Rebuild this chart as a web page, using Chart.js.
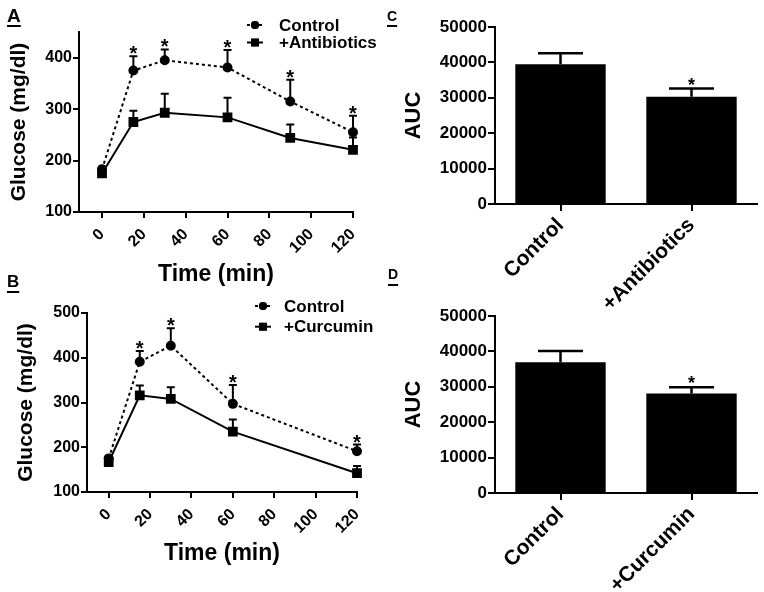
<!DOCTYPE html>
<html>
<head>
<meta charset="utf-8">
<script src="https://cdn.jsdelivr.net/npm/chart.js@4.4.1/dist/chart.umd.min.js"></script>
<style>
  body { margin: 0; background: #fff; }
  #fig { position: relative; width: 764px; height: 592px; overflow: hidden; font-family: "Liberation Sans", Arial, sans-serif; }
  canvas { position: absolute; }
  .tag { position: absolute; font-weight: bold; line-height: 1; color: #000;
         text-decoration: underline; text-decoration-thickness: 2px; }
</style>
</head>
<body>
<div id="fig">
  <canvas id="chartA" width="380" height="290" style="left:0;top:0"></canvas>
  <canvas id="chartB" width="380" height="302" style="left:0;top:290px"></canvas>
  <canvas id="chartC" width="384" height="310" style="left:380px;top:0"></canvas>
  <canvas id="chartD" width="384" height="302" style="left:380px;top:290px"></canvas>
  <div class="tag" style="left:7px;top:6px;font-size:19px;text-underline-offset:3px">A</div>
  <div class="tag" style="left:7px;top:273px;font-size:17px;text-underline-offset:4px">B</div>
  <div class="tag" style="left:387px;top:9px;font-size:14px;text-underline-offset:4px">C</div>
  <div class="tag" style="left:388px;top:267px;font-size:14px;text-underline-offset:5px">D</div>
</div>
<script>
// panel A: glucose tolerance, antibiotics
const timesA = [0, 15, 30, 60, 90, 120];
const controlA = [183, 375, 395, 381, 315, 255];
const controlErrA = [5, 28, 21, 34, 42, 32];
const starsA = [false, true, true, true, true, true];
const antibioticsA = [175, 275, 293, 284, 244, 221];
const antibioticsErrA = [10, 22, 37, 38, 26, 24];

// panel B: glucose tolerance, curcumin
const timesB = [0, 15, 30, 60, 120];
const controlB = [175, 391, 427, 297, 191];
const controlErrB = [6, 24, 39, 42, 15];
const starsB = [false, true, true, true, true];
const curcuminB = [167, 316, 308, 235, 142];
const curcuminErrB = [13, 22, 26, 27, 16];

const timeTicks = [0, 20, 40, 60, 80, 100, 120];
const glucoseTicksA = [100, 200, 300, 400];
const glucoseTicksB = [100, 200, 300, 400, 500];

// panels C, D: area under curve
const groupsC = ['Control', '+Antibiotics'];
const aucC = [39500, 30300];
const aucErrC = [3100, 2300];
const starsC = [false, true];

const groupsD = ['Control', '+Curcumin'];
const aucD = [36900, 28100];
const aucErrD = [3200, 1800];
const starsD = [false, true];

const aucTicks = [0, 10000, 20000, 30000, 40000, 50000];

const FONT = "'Liberation Sans', Arial, sans-serif";
Chart.defaults.font.family = FONT;
Chart.defaults.font.weight = 'bold';
Chart.defaults.color = '#000';

// error bars, asterisks and the little legend
const extras = {
  id: 'extras',
  afterDatasetsDraw(chart, args, opts) {
    const ctx = chart.ctx;
    const yScale = chart.scales.y;
    ctx.save();
    ctx.strokeStyle = '#000';
    ctx.fillStyle = '#000';
    chart.data.datasets.forEach((ds, di) => {
      if (!ds.errors) return;
      const meta = chart.getDatasetMeta(di);
      meta.data.forEach((el, i) => {
        const raw = ds.data[i];
        const val = typeof raw === 'object' ? raw.y : raw;
        const top = yScale.getPixelForValue(val + ds.errors[i]);
        const base = yScale.getPixelForValue(val);
        ctx.lineWidth = opts.errWidth;
        ctx.setLineDash([]);
        ctx.beginPath();
        ctx.moveTo(el.x, base);
        ctx.lineTo(el.x, top);
        ctx.moveTo(el.x - opts.capHalf, top);
        ctx.lineTo(el.x + opts.capHalf, top);
        ctx.stroke();
        if (ds.stars && ds.stars[i]) {
          ctx.font = opts.starFont;
          ctx.textAlign = 'center';
          ctx.textBaseline = 'alphabetic';
          ctx.fillText('*', el.x, top + opts.starShift);
        }
      });
    });

    if (opts.legend) {
      const lg = opts.legend;
      chart.data.datasets.forEach((ds, di) => {
        const y = lg.rows[di];
        ctx.lineWidth = 2;
        ctx.setLineDash(ds.borderDash || []);
        ctx.beginPath();
        ctx.moveTo(lg.x - 8, y);
        ctx.lineTo(lg.x + 8, y);
        ctx.stroke();
        ctx.setLineDash([]);
        Chart.helpers.drawPoint(ctx, { pointStyle: ds.pointStyle, radius: ds.pointRadius, rotation: 0 }, lg.x, y);
        ctx.fill();
        ctx.font = 'bold 17px ' + FONT;
        ctx.textAlign = 'left';
        ctx.textBaseline = 'middle';
        ctx.fillText(ds.label, lg.textX, y + 1);
      });
    }
    ctx.restore();
  }
};

function lineChart(id, cfg) {
  return new Chart(document.getElementById(id), {
    type: 'line',
    data: {
      datasets: [{
        label: 'Control',
        data: cfg.times.map((t, i) => ({ x: t, y: cfg.ctrl[i] })),
        errors: cfg.ctrlErr,
        stars: cfg.stars,
        borderColor: '#000', backgroundColor: '#000',
        borderWidth: 2, borderDash: [3, 3],
        pointStyle: 'circle', pointRadius: 4,
        clip: false,
        order: 2
      }, {
        label: cfg.trtLabel,
        data: cfg.times.map((t, i) => ({ x: t, y: cfg.trt[i] })),
        errors: cfg.trtErr,
        borderColor: '#000', backgroundColor: '#000',
        borderWidth: 2,
        pointStyle: 'rect', pointRadius: 5.5,
        clip: false,
        order: 1
      }]
    },
    options: {
      responsive: false,
      animation: false,
      layout: { padding: { left: 0, top: cfg.top, right: cfg.right, bottom: 0 } },
      plugins: {
        legend: { display: false },
        tooltip: { enabled: false },
        extras: { errWidth: 2, capHalf: 4, starFont: 'bold 20px ' + FONT, starShift: 4, legend: cfg.legend }
      },
      scales: {
        x: {
          type: 'linear', min: cfg.xMin, max: 120,
          afterBuildTicks: s => { s.ticks = timeTicks.map(v => ({ value: v })); },
          afterFit: s => { s.height = cfg.xh; },
          border: { color: '#000', width: 2 },
          grid: { drawOnChartArea: false, color: '#000', lineWidth: 2, tickLength: 6 },
          ticks: { font: { size: 16, weight: 'bold' }, color: '#000', minRotation: 45, maxRotation: 45, padding: 7, callback: v => String(v) },
          title: { display: true, text: 'Time (min)', color: '#000', font: { size: 23, weight: 'bold' }, padding: { top: 0, bottom: cfg.xTitlePad } }
        },
        y: {
          min: cfg.yMin, max: cfg.yMax,
          afterBuildTicks: s => { s.ticks = cfg.yTicks.map(v => ({ value: v })); },
          afterFit: s => { s.width = cfg.yw; },
          border: { color: '#000', width: 2 },
          grid: { drawOnChartArea: false, color: '#000', lineWidth: 2, tickLength: 6 },
          ticks: { font: { size: 16, weight: 'bold' }, color: '#000', padding: 1, callback: v => String(v) },
          title: { display: true, text: 'Glucose (mg/dl)', color: '#000', font: { size: 21, weight: 'bold' }, padding: { top: cfg.yTitlePad, bottom: 0 } }
        }
      }
    },
    plugins: [extras]
  });
}

function barChart(id, cfg) {
  return new Chart(document.getElementById(id), {
    type: 'bar',
    data: {
      labels: cfg.groups,
      datasets: [{
        label: 'AUC',
        data: cfg.values,
        errors: cfg.errors,
        stars: cfg.stars,
        backgroundColor: '#000',
        barPercentage: 0.69,
        categoryPercentage: 1
      }]
    },
    options: {
      responsive: false,
      animation: false,
      layout: { padding: { left: 0, top: cfg.top, right: cfg.right, bottom: 0 } },
      plugins: {
        legend: { display: false },
        tooltip: { enabled: false },
        extras: { errWidth: 2.5, capHalf: 22.5, starFont: 'bold 18px ' + FONT, starShift: 2 }
      },
      scales: {
        x: {
          afterFit: s => { s.height = cfg.xh; },
          border: { color: '#000', width: 2 },
          grid: { offset: false, drawOnChartArea: false, color: '#000', lineWidth: 2, tickLength: 7 },
          ticks: { font: { size: 21, weight: 'bold' }, color: '#000', minRotation: 45, maxRotation: 45, padding: 2 }
        },
        y: {
          min: 0, max: 50000,
          afterBuildTicks: s => { s.ticks = aucTicks.map(v => ({ value: v })); },
          afterFit: s => { s.width = cfg.yw; },
          border: { color: '#000', width: 2 },
          grid: { drawOnChartArea: false, color: '#000', lineWidth: 2, tickLength: 7 },
          ticks: { font: { size: 17, weight: 'bold' }, color: '#000', padding: 1, callback: v => String(v) },
          title: { display: true, text: 'AUC', color: '#000', font: { size: 22, weight: 'bold' }, padding: { top: 21, bottom: 0 } }
        }
      }
    },
    plugins: [extras]
  });
}

lineChart('chartA', {
  times: timesA, ctrl: controlA, ctrlErr: controlErrA, stars: starsA,
  trt: antibioticsA, trtErr: antibioticsErrA, trtLabel: '+Antibiotics',
  yMin: 100, yMax: 450, yTicks: glucoseTicksA, xMin: -11,
  top: 32, right: 27, yw: 79, xh: 78, xTitlePad: 2, yTitlePad: 7,
  legend: { x: 255, textX: 279, rows: [25, 42.5] }
});

lineChart('chartB', {
  times: timesB, ctrl: controlB, ctrlErr: controlErrB, stars: starsB,
  trt: curcuminB, trtErr: curcuminErrB, trtLabel: '+Curcumin',
  yMin: 100, yMax: 500, yTicks: glucoseTicksB, xMin: -10.5,
  top: 23, right: 23, yw: 87, xh: 100, xTitlePad: 25, yTitlePad: 14,
  legend: { x: 263, textX: 284, rows: [16, 36.7] }
});

barChart('chartC', {
  groups: groupsC, values: aucC, errors: aucErrC, stars: starsC,
  top: 27, right: 7, yw: 115, xh: 106
});

barChart('chartD', {
  groups: groupsD, values: aucD, errors: aucErrD, stars: starsD,
  top: 26, right: 7, yw: 115, xh: 99
});
</script>
</body>
</html>
